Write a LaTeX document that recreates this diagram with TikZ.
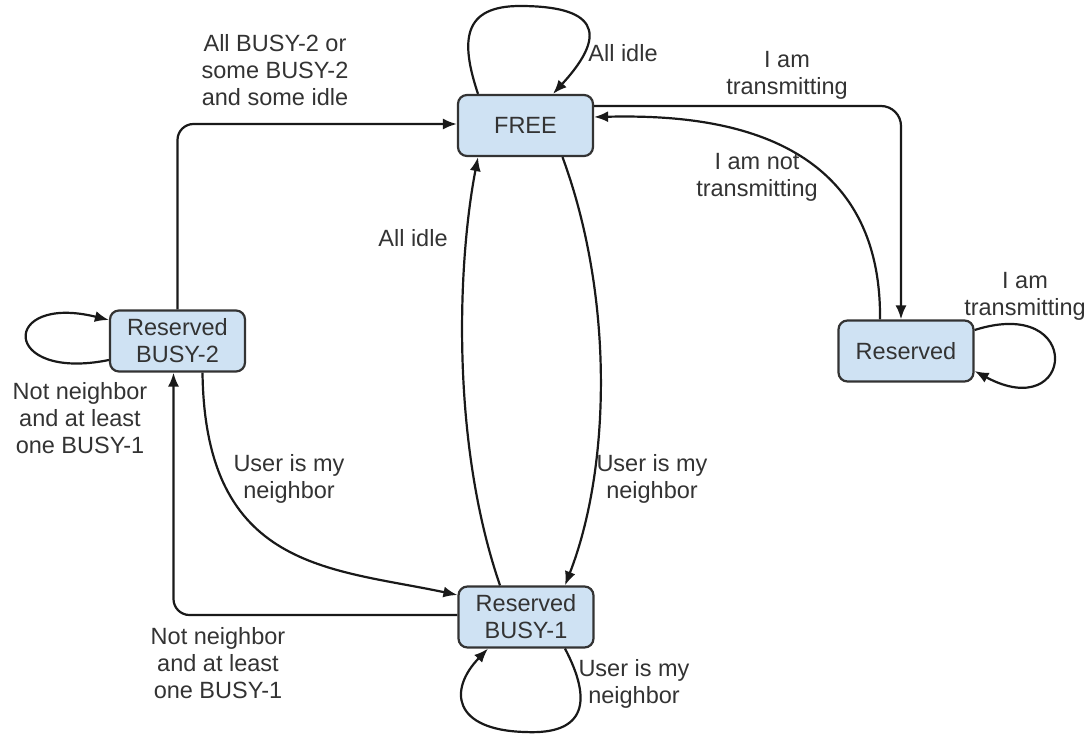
\documentclass[tikz,border=0pt]{standalone}
\usepackage{fontspec}
\setmainfont{Liberation Sans}
\usetikzlibrary{arrows.meta,calc}
\definecolor{boxfill}{HTML}{CFE2F3}
\definecolor{boxline}{HTML}{333333}
\definecolor{txt}{HTML}{333333}
\begin{document}
\begin{tikzpicture}[x=1pt,y=-1pt,
  state/.style={draw=boxline,fill=boxfill,line width=2.2pt,rounded corners=9pt,
    minimum width=135pt,minimum height=61pt,align=center,text=txt,
    font=\fontsize{23.5}{27}\selectfont,inner sep=0pt},
  lbl/.style={align=center,text=txt,font=\fontsize{23.5}{27}\selectfont,inner sep=0pt},
  edge/.style={draw=black!90,line width=2.2pt,-{Latex[length=14pt,width=11pt]}}
]
\useasboundingbox (0,0) rectangle (1089,734);

% states
\node[state] (free)  at (525.5,125.5) {FREE};
\node[state] (busy2) at (177.5,341)   {Reserved\\BUSY-2};
\node[state] (resv)  at (906,351)     {Reserved};
\node[state] (busy1) at (526,617)     {Reserved\\BUSY-1};

% self loops
\draw[edge] ($(free.north)+(-47.5,0)$) .. controls (460,40) and (463,6) .. (520,6)
  .. controls (592,6) and (612,30) .. ($(free.north)+(27.5,0)$);
\draw[edge] ($(busy2.west)+(0,19)$) .. controls (0,382) and (0,293) .. ($(busy2.west)+(0,-21)$);
\draw[edge] ($(resv.east)+(0,-21)$) .. controls (1085,295) and (1075,425) .. ($(resv.east)+(0,20)$);
\draw[edge] ($(busy1.south)+(39,0)$) .. controls (592,700) and (587,735) .. (525,732)
  .. controls (453,730) and (448,690) .. ($(busy1.south)+(-38,0)$);

% transitions
\draw[edge,rounded corners=16pt] (busy2.north) |- ($(free.west)+(0,-1.5)$);
\draw[edge,rounded corners=20pt] ($(free.east)+(0,-19.5)$) -| ($(resv.north)+(-5,0)$);
\draw[edge] ($(resv.north)+(-26,0)$) .. controls (882,120) and (690,115) .. ($(free.east)+(0,-8.5)$);
\draw[edge] ($(busy1.north)+(-26,0)$) .. controls (450,440) and (458,260) .. ($(free.south)+(-47.5,0)$);
\draw[edge] ($(free.south)+(37,0)$) .. controls (615,300) and (610,470) .. ($(busy1.north)+(39,0)$);
\draw[edge] ($(busy2.south)+(25,0)$) .. controls (205,570) and (330,568) .. ($(busy1.west)+(0,-22)$);
\draw[edge,rounded corners=16pt] ($(busy1.west)+(0,-2)$) -| ($(busy2.south)+(-4,0)$);

% labels
\node[lbl] (lfreeloop) at (623,53)  {All idle};
\node[lbl] (lb2free)   at (275,70)  {All BUSY-2 or\\some BUSY-2\\and some idle};
\node[lbl] (ltx)       at (787,75)  {I am\\transmitting};
\node[lbl] (lnotx)     at (757,177) {I am not\\transmitting};
\node[lbl] (lresvloop) at (1025,296) {I am\\transmitting};
\node[lbl] (lb2loop)   at (80,418)  {Not neighbor\\and at least\\one BUSY-1};
\node[lbl] (lidle)     at (413,238) {All idle};
\node[lbl] (lb2b1)     at (289,479) {User is my\\neighbor};
\node[lbl] (lfreeb1)   at (652,479) {User is my\\neighbor};
\node[lbl] (lb1b2)     at (218,663) {Not neighbor\\and at least\\one BUSY-1};
\node[lbl] (lb1loop)   at (634,684) {User is my\\neighbor};
\end{tikzpicture}
\end{document}
